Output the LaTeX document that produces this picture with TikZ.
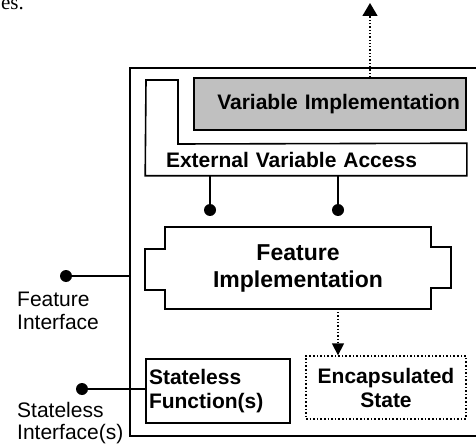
\documentclass[tikz,border=0pt]{standalone}
\usepackage{fontspec}
\setmainfont{Liberation Serif}
\setsansfont{Liberation Sans}
\usetikzlibrary{arrows.meta}
\definecolor{panelgray}{RGB}{192,192,192}

\tikzset{
  part/.style={draw,line width=1.6pt,inner sep=0pt,
    font=\sffamily\bfseries\fontsize{21}{24}\selectfont},
  plain/.style={inner sep=0pt,align=left,
    font=\sffamily\fontsize{21}{22.5}\selectfont},
  link/.style={line width=1.6pt},
  flow/.style={dotted,line width=1.3pt,-{Triangle[width=15pt,length=13pt]}}
}

\begin{document}
\begin{tikzpicture}[x=1pt,y=-1pt]
    \useasboundingbox (0,0) rectangle (476,446);
    % leftover of the page text
    \node[font=\rmfamily\fontsize{21}{24}\selectfont,anchor=base east,inner sep=0pt] (cut) at (24,10) {es.};

    % feature boundary (runs off the right edge)
    \node[draw,line width=1.4pt,minimum width=350pt,minimum height=368pt] (boundary) at (305,252) {};

    % external variable access
    \node[part,draw=none,minimum width=320pt,minimum height=31pt,text width=280pt,align=left] (access) at (306,159.5) {External Variable Access};
    \draw[link] (access.south west) -- (access.south east) -- (access.north east)
        -- (178,144) -- (178,80) -- (146,80) -- cycle;
    \node[part,fill=panelgray,minimum width=272pt,minimum height=52pt,text width=260pt,align=right] (varimpl) at (330,104) {Variable Implementation};

    % feature implementation
    \node[part,draw=none,minimum width=264pt,minimum height=80pt,align=center,
        font=\sffamily\bfseries\fontsize{23}{27}\selectfont] (feature) at (298,268) {Feature\\Implementation};
    \draw[link] (feature.north west) -- (feature.north east) -- ++(0,20) -- ++(20,0) -- ++(0,41) -- ++(-20,0)
        -- (feature.south east) -- (feature.south west) -- ++(0,-19) -- ++(-20,0) -- ++(0,-41) -- ++(20,0) -- cycle;

    % bottom row
    \node[part,minimum width=144pt,minimum height=64pt,text width=138pt,align=left] (stateless) at (218,391) {Stateless\\Function(s)};
    \node[part,dotted,line width=1.3pt,minimum width=160pt,minimum height=63pt,align=center] (state) at (386,387.5) {Encapsulated\\State};

    % interfaces
    \node[plain,anchor=north west] (featlabel) at (17,292) {Feature\\Interface};
    \node[plain,anchor=north west] (statelabel) at (17,402) {Stateless\\Interface(s)};

    \coordinate (featdot) at (66,276);
    \coordinate (statedot) at (82,389);
    \coordinate (plugA) at (210,210);
    \coordinate (plugB) at (338,210);
    \coordinate (out) at (370,3);

    \draw[link] (featdot) -- (featdot -| boundary.west);
    \draw[link] (statedot) -- (statedot -| stateless.west);
    \foreach \p in {plugA,plugB}
        \draw[link] (access.south -| \p) -- (\p);
    \foreach \p in {featdot,statedot,plugA,plugB}
        \fill (\p) circle (6pt);

    % dotted arrows
    \draw[flow] (varimpl.north -| out) -- (out);
    \draw[flow,-{Triangle[width=12pt,length=12pt]}] (feature.south -| plugB) -- (state.north -| plugB);
\end{tikzpicture}
\end{document}
